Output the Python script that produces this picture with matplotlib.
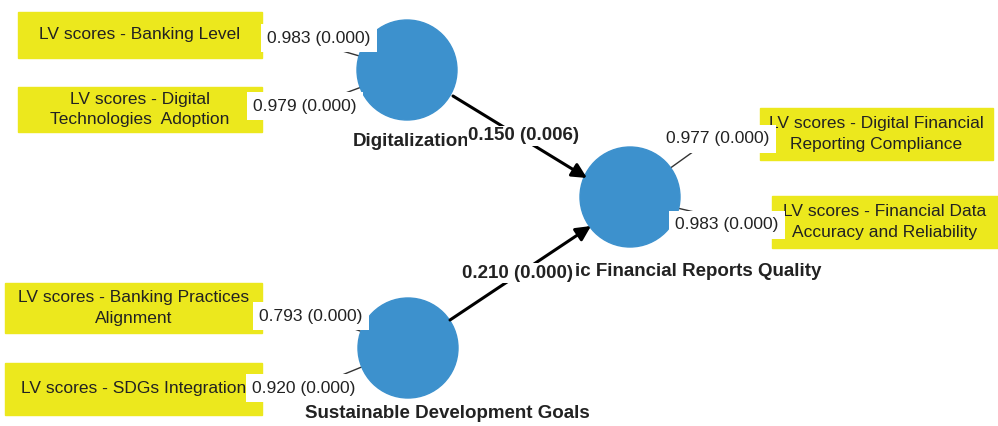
import matplotlib.pyplot as plt
from matplotlib.patches import Circle, Rectangle, FancyArrowPatch

# data
constructs = ["Digitalization", "ic Financial Reports Quality", "Sustainable Development Goals"]
indicators = [
    "LV scores - Banking Level",
    "LV scores - Digital\nTechnologies  Adoption",
    "LV scores - Banking Practices\nAlignment",
    "LV scores - SDGs Integration",
    "LV scores - Digital Financial\nReporting Compliance",
    "LV scores - Financial Data\nAccuracy and Reliability",
]
indicator_construct = [0, 0, 2, 2, 1, 1]
loadings = [0.983, 0.979, 0.793, 0.920, 0.977, 0.983]
loading_p = [0.000, 0.000, 0.000, 0.000, 0.000, 0.000]
paths = [(0, 1), (2, 1)]
path_coef = [0.150, 0.210]
path_p = [0.006, 0.000]

# layout in pixels (y downwards)
W, H = 998, 426
circ_xy = [(407, 70), (630, 197), (408, 348)]
circ_r = 50
name_xy = [(411, 141, "center"), (575, 271, "left"), (447, 414, "center")]
boxes = [(18, 12, 262, 58), (18, 87, 262, 132), (5, 283, 262, 333),
         (5, 363, 262, 415), (760, 108, 993, 160), (772, 196, 998, 248)]
line_end = [(305, 40), (308, 107), (315, 315), (308, 389), (722, 131), (720, 218)]
load_xy = [(319, 38), (305, 106), (311, 316), (304, 388), (718, 139), (727, 225)]
arrow_se = [((453, 96), (587, 178)), ((450, 320), (591, 226))]
path_xy = [(524, 136), (518, 273)]

BLUE = "#3d91cd"
YELLOW = "#ece81d"
INK = "#222222"

plt.rcParams["font.family"] = ["Liberation Sans", "DejaVu Sans"]

fig = plt.figure(figsize=(W / 100, H / 100), dpi=100)
ax = fig.add_axes([0, 0, 1, 1])
ax.set_xlim(0, W)
ax.set_ylim(H, 0)
ax.axis("off")

# indicator boxes + loading lines
for i, txt in enumerate(indicators):
    x0, y0, x1, y1 = boxes[i]
    ax.add_patch(Rectangle((x0, y0), x1 - x0, y1 - y0, color=YELLOW, zorder=1))
    ax.text((x0 + x1) / 2, (y0 + y1) / 2, txt, ha="center", va="center",
            fontsize=12.5, linespacing=1.45, color=INK, zorder=2)
    cx, cy = circ_xy[indicator_construct[i]]
    ax.plot([line_end[i][0], cx], [line_end[i][1], cy], color="#333333",
            lw=1, zorder=0.5)

# constructs
for i, name in enumerate(constructs):
    ax.add_patch(Circle(circ_xy[i], circ_r, color=BLUE, zorder=3))
    x, y, ha = name_xy[i]
    ax.text(x, y, name, ha=ha, va="center", fontsize=13.5, fontweight="bold",
            color=INK, zorder=3)

# structural paths
for k, (a, b) in enumerate(paths):
    (xs, ys), (xe, ye) = arrow_se[k]
    ax.add_patch(FancyArrowPatch((xs, ys), (xe, ye), arrowstyle="-|>",
                                 mutation_scale=22, lw=2.2, color="black",
                                 shrinkA=0, shrinkB=0, zorder=4))
    ax.text(*path_xy[k], f"{path_coef[k]:.3f} ({path_p[k]:.3f})", ha="center",
            va="center", fontsize=13.5, fontweight="bold", color=INK,
            bbox=dict(boxstyle="square,pad=0.1", fc="white", ec="none"), zorder=5)

# loading labels
for i, v in enumerate(loadings):
    ax.text(*load_xy[i], f"{v:.3f} ({loading_p[i]:.3f})", ha="center",
            va="center", fontsize=12.5, color=INK,
            bbox=dict(boxstyle="square,pad=0.35", fc="white", ec="none"), zorder=5)

fig.savefig("out.png", dpi=100)
